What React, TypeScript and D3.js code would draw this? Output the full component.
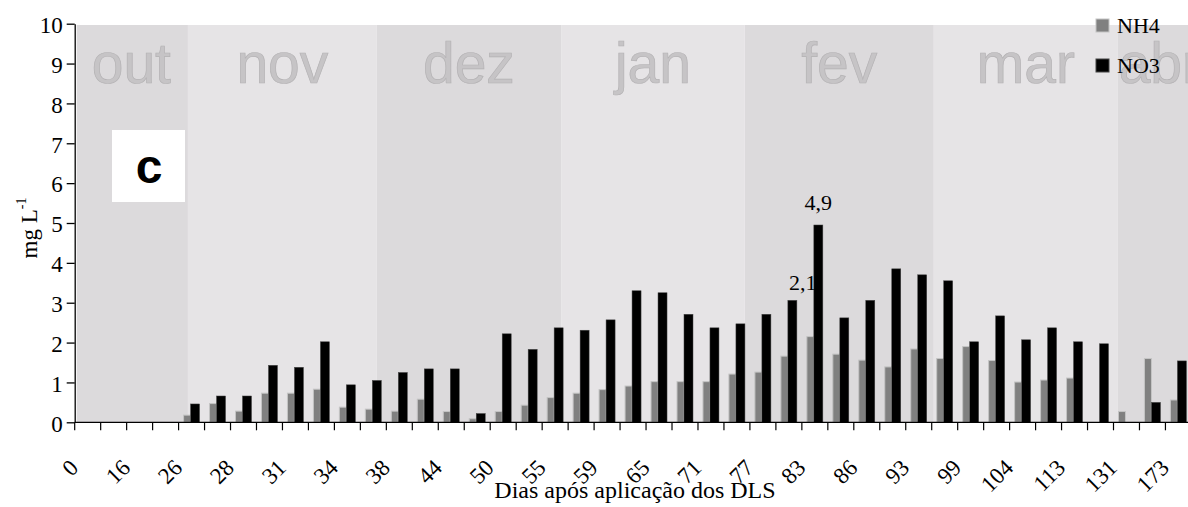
import React, { useEffect, useRef } from "react";
import * as d3 from "d3";

// days after application (only every other category is labelled)
const tickLabels = ["0", "16", "26", "28", "31", "34", "38", "44", "50", "55", "59", "65", "71", "77", "83", "86", "93", "99", "104", "113", "131", "173"];

// mg L-1 per sampling
const nh4 = [0, 0, 0, 0, 0.18, 0.47, 0.28, 0.73, 0.73, 0.83, 0.38, 0.33, 0.28, 0.58, 0.27, 0.09, 0.27, 0.43, 0.62, 0.73, 0.82, 0.91, 1.02, 1.02, 1.02, 1.21, 1.26, 1.66, 2.15, 1.71, 1.56, 1.39, 1.84, 1.6, 1.9, 1.55, 1.01, 1.06, 1.11, 0, 0.27, 1.6, 0.56];
const no3 = [0, 0, 0, 0, 0.46, 0.66, 0.66, 1.43, 1.38, 2.02, 0.94, 1.05, 1.25, 1.34, 1.34, 0.22, 2.22, 1.83, 2.37, 2.31, 2.57, 3.3, 3.25, 2.71, 2.37, 2.47, 2.71, 3.06, 4.95, 2.62, 3.06, 3.85, 3.7, 3.55, 2.02, 2.67, 2.07, 2.37, 2.02, 1.97, 0, 0.5, 1.54];

// month bands, start of each month in category units
const months = ["out", "nov", "dez", "jan", "fev", "mar", "abr"];
const monthStarts = [0, 4.36, 11.63, 18.73, 25.8, 33.08, 40.17, 43.4];

const seriesNames = ["NH4", "NO3"];

const App: React.FC = () => {
  const svgRef = useRef<SVGSVGElement | null>(null);

  useEffect(() => {
    if (!svgRef.current) return;

    const width = 1188;
    const height = 507;
    const serif = "Liberation Serif, Tinos, Times New Roman, Times, Nimbus Roman, serif";
    const sans = "Liberation Sans, Arial, sans-serif";
    const step = 25.97;
    const left = 74.7;
    const right = left + nh4.length * step;
    const top = 23.7;
    const bottom = 422.3;

    d3.select(svgRef.current).selectAll("*").remove();
    const svg = d3.select(svgRef.current).attr("width", width).attr("height", height);

    const idx = nh4.map((_, i) => i);
    const x = d3.scaleBand<number>().domain(idx).range([left, right]).padding(0);
    const xPos = d3.scaleLinear().domain([0, nh4.length]).range([left, right]);
    const y = d3.scaleLinear().domain([0, 10]).range([bottom, top]);

    // month bands
    months.forEach((m, i) => {
      const x0 = Math.max(xPos(monthStarts[i]), left + 2);
      const x1 = Math.min(xPos(monthStarts[i + 1]), right);
      svg
        .append("rect")
        .attr("x", x0)
        .attr("y", top + 1.3)
        .attr("width", x1 - x0)
        .attr("height", bottom - top - 1.3)
        .attr("fill", i % 2 === 0 ? "#dcdadc" : "#e6e4e6");
      svg
        .append("text")
        .attr("x", xPos((monthStarts[i] + monthStarts[i + 1]) / 2))
        .attr("y", 83)
        .attr("text-anchor", "middle")
        .style("font-family", sans)
        .attr("font-size", 57)
        .attr("fill", "#c6c4c6")
        .attr("stroke", "#b4b2b4")
        .attr("stroke-width", 0.7)
        .text(m);
    });

    // "c" panel tag
    svg.append("rect").attr("x", 112).attr("y", 130).attr("width", 73).attr("height", 72).attr("fill", "#fff");
    svg
      .append("text")
      .attr("x", 149)
      .attr("y", 183)
      .attr("text-anchor", "middle")
      .style("font-family", sans)
      .attr("font-weight", "bold")
      .attr("font-size", 48)
      .text("c");

    // bars
    const c = (i: number) => x(i)! + x.bandwidth() / 2;
    svg
      .append("g")
      .selectAll("rect")
      .data(idx.filter((i) => nh4[i] > 0))
      .enter()
      .append("rect")
      .attr("x", (i) => c(i) - 8)
      .attr("y", (i) => y(nh4[i]))
      .attr("width", 7)
      .attr("height", (i) => bottom - y(nh4[i]))
      .attr("fill", "#808080")
      .attr("stroke", "#c4c4c4")
      .attr("stroke-width", 1);
    svg
      .append("g")
      .selectAll("rect")
      .data(idx.filter((i) => no3[i] > 0))
      .enter()
      .append("rect")
      .attr("x", (i) => c(i) - 1)
      .attr("y", (i) => y(no3[i]))
      .attr("width", 9)
      .attr("height", (i) => bottom - y(no3[i]))
      .attr("fill", "#000")
      .attr("stroke", "#444")
      .attr("stroke-width", 0.5);

    // data labels on the peak sampling
    const peak = 28;
    const fmt = (v: number) => (Math.floor(v * 10) / 10).toFixed(1).replace(".", ",");
    svg
      .append("text")
      .attr("x", c(peak) + 3.5)
      .attr("y", y(no3[peak]) - 15)
      .attr("text-anchor", "middle")
      .style("font-family", serif)
      .attr("font-size", 22)
      .text(fmt(no3[peak]));
    svg
      .append("text")
      .attr("x", c(peak) - 12)
      .attr("y", y(nh4[peak]) - 47)
      .attr("text-anchor", "middle")
      .style("font-family", serif)
      .attr("font-size", 22)
      .text(fmt(nh4[peak]));

    // y axis
    const yAxis = svg
      .append("g")
      .attr("transform", `translate(${left},0)`)
      .call(d3.axisLeft(y).ticks(10).tickSize(8).tickSizeOuter(0).tickPadding(4));
    yAxis.select(".domain").attr("stroke", "#000").attr("stroke-width", 1.3);
    yAxis.selectAll("line").attr("stroke-width", 1.3);
    yAxis.selectAll("text").style("font-family", serif).attr("font-size", 23).attr("dy", "0.38em");

    // x axis
    svg
      .append("line")
      .attr("x1", left)
      .attr("x2", right)
      .attr("y1", bottom)
      .attr("y2", bottom)
      .attr("stroke", "#000")
      .attr("stroke-width", 1.3);
    svg
      .append("g")
      .selectAll("line")
      .data(d3.range(nh4.length + 1))
      .enter()
      .append("line")
      .attr("x1", (i) => xPos(i))
      .attr("x2", (i) => xPos(i))
      .attr("y1", bottom)
      .attr("y2", bottom + 8)
      .attr("stroke", "#000")
      .attr("stroke-width", 1.2);
    svg
      .append("g")
      .selectAll("text")
      .data(tickLabels)
      .enter()
      .append("text")
      .attr("transform", (_, j) => `translate(${c(j * 2) - 8},469) rotate(-45)`)
      .attr("text-anchor", "end")
      .style("font-family", serif)
      .attr("font-size", 23)
      .text((d) => d);

    svg
      .append("text")
      .attr("x", 635)
      .attr("y", 498)
      .attr("text-anchor", "middle")
      .style("font-family", serif)
      .attr("font-size", 24)
      .text("Dias após aplicação dos DLS");

    // y title
    const yt = svg
      .append("text")
      .attr("transform", "translate(37,228) rotate(-90)")
      .attr("text-anchor", "middle")
      .style("font-family", serif)
      .attr("font-size", 23);
    yt.append("tspan").text("mg L");
    yt.append("tspan").attr("dy", -11).attr("font-size", 14).text("-1");

    // legend
    const legend = svg.append("g");
    seriesNames.forEach((s, i) => {
      legend
        .append("rect")
        .attr("x", 1096)
        .attr("y", 19 + i * 40)
        .attr("width", 13)
        .attr("height", 13)
        .attr("fill", i === 0 ? "#808080" : "#000")
        .attr("stroke", i === 0 ? "#c4c4c4" : "#444")
        .attr("stroke-width", 1);
      legend
        .append("text")
        .attr("x", 1117)
        .attr("y", 33 + i * 40)
        .style("font-family", serif)
        .attr("font-size", 22)
        .text(s);
    });
  }, []);

  return (
    <div style={{ position: "absolute", left: 0, top: 0 }}>
      <svg ref={svgRef} style={{ display: "block" }}></svg>
    </div>
  );
};

export default App;
